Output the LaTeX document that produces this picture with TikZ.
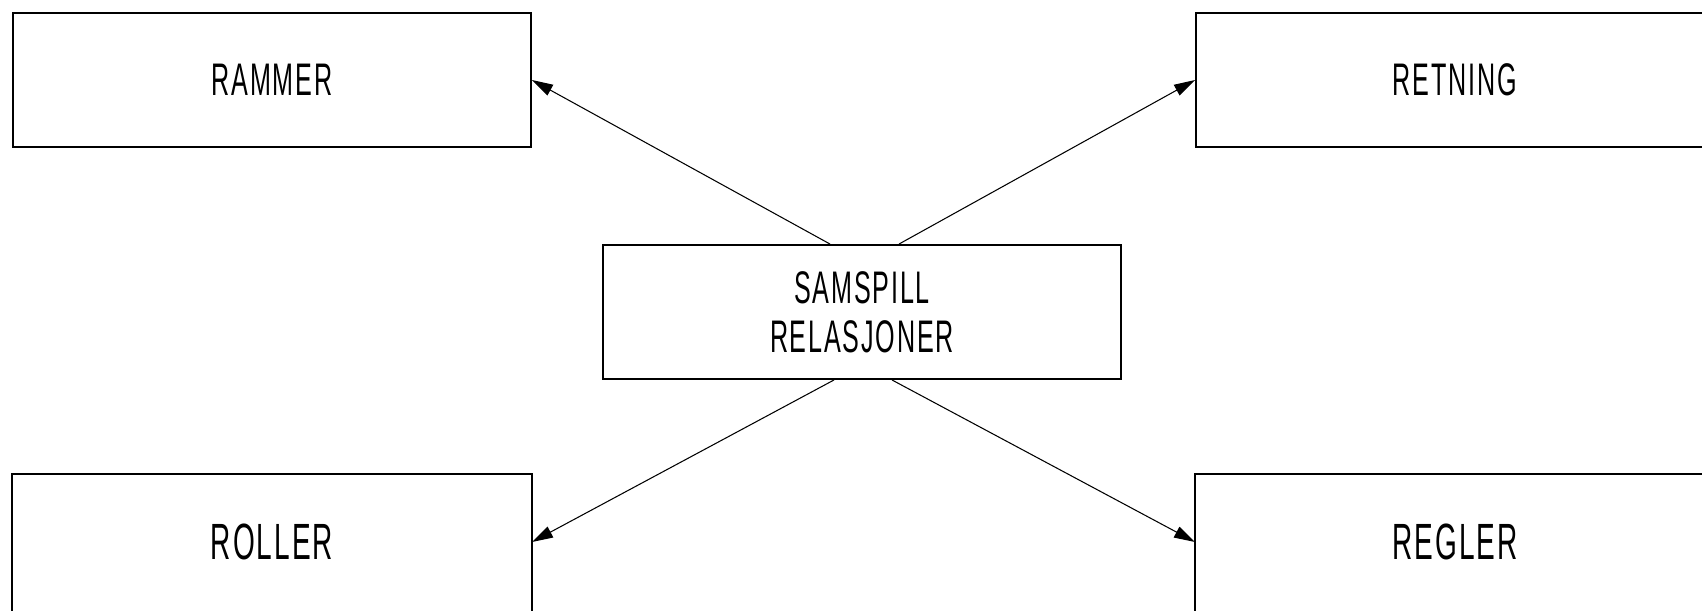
\documentclass[tikz,border=0pt]{standalone}
\usepackage{fontspec}
\setmainfont{Liberation Sans}[FakeStretch=0.55,LetterSpace=4]
\usepackage{tikz}
\usetikzlibrary{arrows.meta, positioning}

\tikzset{
  box/.style={draw, line width=1.1pt, minimum width=10.36cm, minimum height=2.68cm, align=center, inner sep=0pt},
  openbox/.style={box, draw=none},
  lbl/.style={font=\fontsize{26}{28}\selectfont},
  biglbl/.style={font=\fontsize{29}{31}\selectfont},
  arr/.style={-{Triangle[length=0.42cm, width=0.24cm]}, line width=0.6pt}
}

\begin{document}
\begin{tikzpicture}
\clip (0,0) rectangle (34.04,-12.2);
\fill[white] (0,0) rectangle (34.04,-12.2);

\node[box, lbl] (rammer) at (5.44,-1.6) {RAMMER};
\node[box, lbl] (retning) at (29.1,-1.6) {RETNING};
\node[box, lbl] (mid) at (17.24,-6.24) {SAMSPILL\\RELASJONER};
\node[openbox, biglbl] (roller) at (5.44,-10.84) {ROLLER};
\node[openbox, biglbl] (regler) at (29.1,-10.84) {REGLER};

% bottom boxes run off the page
\draw[line width=1.1pt] ([yshift=-1cm]roller.south west) -- (roller.north west) -- (roller.north east) -- ([yshift=-1cm]roller.south east);
\draw[line width=1.1pt] ([yshift=-1cm]regler.south west) -- (regler.north west) -- (regler.north east) -- ([yshift=-1cm]regler.south east);

\draw[arr] ([xshift=-0.64cm]mid.north) -- (rammer.east);
\draw[arr] ([xshift=0.74cm]mid.north) -- (retning.west);
\draw[arr] ([xshift=-0.56cm]mid.south) -- (roller.east);
\draw[arr] ([xshift=0.6cm]mid.south) -- (regler.west);
\end{tikzpicture}
\end{document}
